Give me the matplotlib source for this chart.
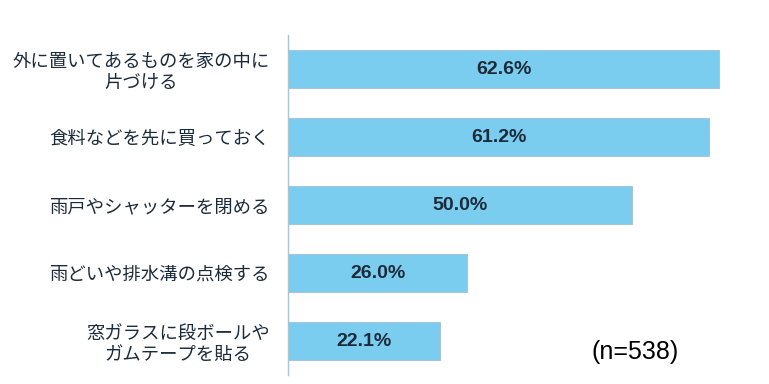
import matplotlib.pyplot as plt

plt.rcParams['font.family'] = ['Noto Sans CJK JP', 'DejaVu Sans']

labels = ['外に置いてあるものを家の中に\n片づける', '食料などを先に買っておく', '雨戸やシャッターを閉める',
          '雨どいや排水溝の点検する', '窓ガラスに段ボールや\nガムテープを貼る']
values = [62.6, 61.2, 50.0, 26.0, 22.1]
note = '(n=538)'

text_color = '#1c2b3a'
bar_color = '#7acdef'

fig = plt.figure(figsize=(7.69, 3.84), dpi=100)
ax = fig.add_axes([288 / 769, 9 / 384, 481 / 769, 340 / 384])

y = list(range(len(values)))
ax.barh(y, values, height=0.56, color=bar_color, edgecolor='#a9c4d4', linewidth=0.8)
ax.set_ylim(len(values) - 0.5, -0.5)
ax.set_xlim(0, 481 / 6.885)

for yi, v in zip(y, values):
    ax.text(v / 2, yi, f'{v:.1f}%', ha='center', va='center', fontsize=14,
            fontweight='bold', color=text_color, family=['Liberation Sans'])

ax.set_yticks(y)
ax.set_yticklabels(labels, fontsize=13.2, color=text_color, ha='right',
                   multialignment='center', linespacing=1.2)
ax.tick_params(axis='y', length=0, pad=13)
ax.set_xticks([])

for s in ['top', 'right', 'bottom']:
    ax.spines[s].set_visible(False)
ax.spines['left'].set_color('#a9c4d4')
ax.spines['left'].set_linewidth(1)

fig.text(635 / 769, 1 - 352 / 384, note, ha='center', va='center', fontsize=18,
         color='black', family=['Liberation Sans'])

fig.savefig('out.png', dpi=100)
